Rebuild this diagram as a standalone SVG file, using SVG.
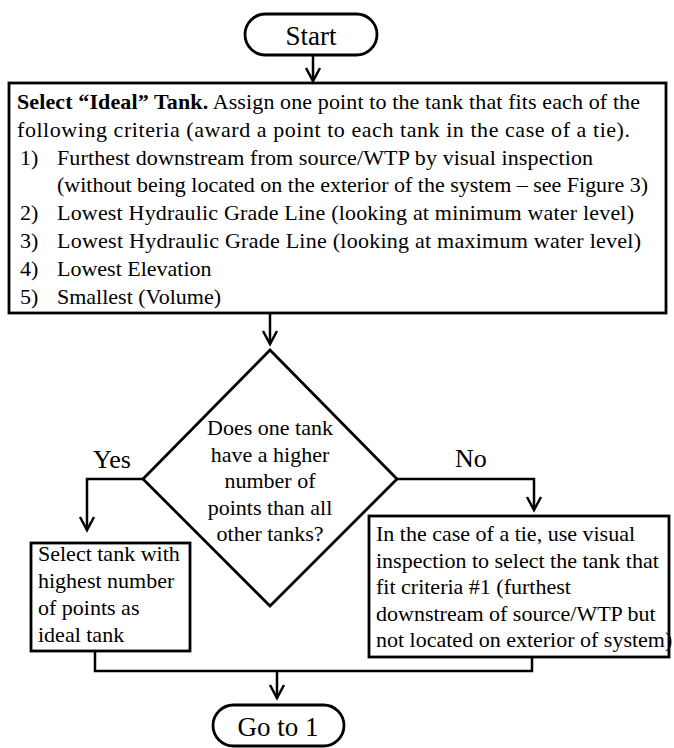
<svg xmlns="http://www.w3.org/2000/svg" width="674" height="748" viewBox="0 0 674 748">
<defs>
<marker id="arr" markerUnits="userSpaceOnUse" markerWidth="18" markerHeight="18" viewBox="-15 -9 18 18" refX="0" refY="0" orient="auto">
<path d="M-13,-7 L0,0 L-13,7" fill="none" stroke="#000" stroke-width="2.5"/>
</marker>
</defs>
<style>
.sh{fill:#fff;stroke:#000;stroke-width:2.8}
.t{font-family:"Liberation Serif","Times New Roman",serif;font-size:22px;fill:#000}
.big{font-size:27px}
.lbl{font-size:26px}
.c{text-anchor:middle}
.cn{fill:none;stroke:#000;stroke-width:2.5}
</style>
<rect width="674" height="748" fill="#fff"/>
<g id="connectors">
<path class="cn" d="M313,55 V81" marker-end="url(#arr)"/>
<path class="cn" d="M270,314 V344" marker-end="url(#arr)"/>
<path class="cn" d="M143,479 H87 V530" marker-end="url(#arr)"/>
<path class="cn" d="M397,479 H534 V510" marker-end="url(#arr)"/>
<path class="cn" d="M95,651 V671 H532 V657"/>
<path class="cn" d="M277,671 V698" marker-end="url(#arr)"/>
<text class="t lbl" x="93" y="468">Yes</text>
<text class="t lbl" x="455" y="467">No</text>
</g>
<g id="start">
<rect class="sh" x="245" y="14" width="132" height="41" rx="20.5"/>
<text class="t big c" x="311" y="45">Start</text>
</g>
<g id="select-ideal">
<rect class="sh" x="9" y="83" width="657" height="230"/>
<text class="t" x="17" y="109" textLength="623" lengthAdjust="spacing"><tspan font-weight="bold">Select “Ideal” Tank.</tspan> Assign one point to the tank that fits each of the</text>
<text class="t" x="17" y="137" textLength="613" lengthAdjust="spacing">following criteria (award a point to each tank in the case of a tie).</text>
<text class="t" x="20" y="165">1)</text>
<text class="t" x="57" y="165" textLength="536" lengthAdjust="spacing">Furthest downstream from source/WTP  by visual inspection</text>
<text class="t" x="57" y="192" textLength="591" lengthAdjust="spacing">(without being located on the exterior of the system – see Figure 3)</text>
<text class="t" x="20" y="220">2)</text>
<text class="t" x="57" y="220" textLength="577" lengthAdjust="spacing">Lowest Hydraulic Grade Line (looking at minimum water level)</text>
<text class="t" x="20" y="248">3)</text>
<text class="t" x="57" y="248" textLength="584" lengthAdjust="spacing">Lowest Hydraulic Grade Line (looking at maximum water level)</text>
<text class="t" x="20" y="276">4)</text>
<text class="t" x="57" y="276">Lowest Elevation</text>
<text class="t" x="20" y="304">5)</text>
<text class="t" x="57" y="304">Smallest (Volume)</text>
</g>
<g id="decision">
<polygon class="sh" points="270,350 397,479 270,606 143,479"/>
<text class="t c" x="270" y="435">Does one tank</text>
<text class="t c" x="270" y="461.5">have a higher</text>
<text class="t c" x="270" y="488">number of</text>
<text class="t c" x="270" y="514.5">points than all</text>
<text class="t c" x="270" y="541">other tanks?</text>
</g>
<g id="yes-box">
<rect class="sh" x="31" y="543" width="159" height="108"/>
<text class="t" x="38" y="561">Select tank with</text>
<text class="t" x="38" y="588">highest number</text>
<text class="t" x="38" y="615">of points as</text>
<text class="t" x="38" y="642">ideal tank</text>
</g>
<g id="no-box">
<rect class="sh" x="369" y="516" width="300" height="141"/>
<text class="t" x="376" y="541">In the case of a tie, use visual</text>
<text class="t" x="376" y="567.5">inspection to select the tank that</text>
<text class="t" x="376" y="594">fit criteria #1 (furthest</text>
<text class="t" x="376" y="620.5">downstream of source/WTP but</text>
<text class="t" x="376" y="647">not located on exterior of system)</text>
</g>
<g id="goto1">
<rect class="sh" x="213" y="705" width="131" height="41" rx="20.5"/>
<text class="t big c" x="278" y="736">Go to 1</text>
</g>
</svg>
